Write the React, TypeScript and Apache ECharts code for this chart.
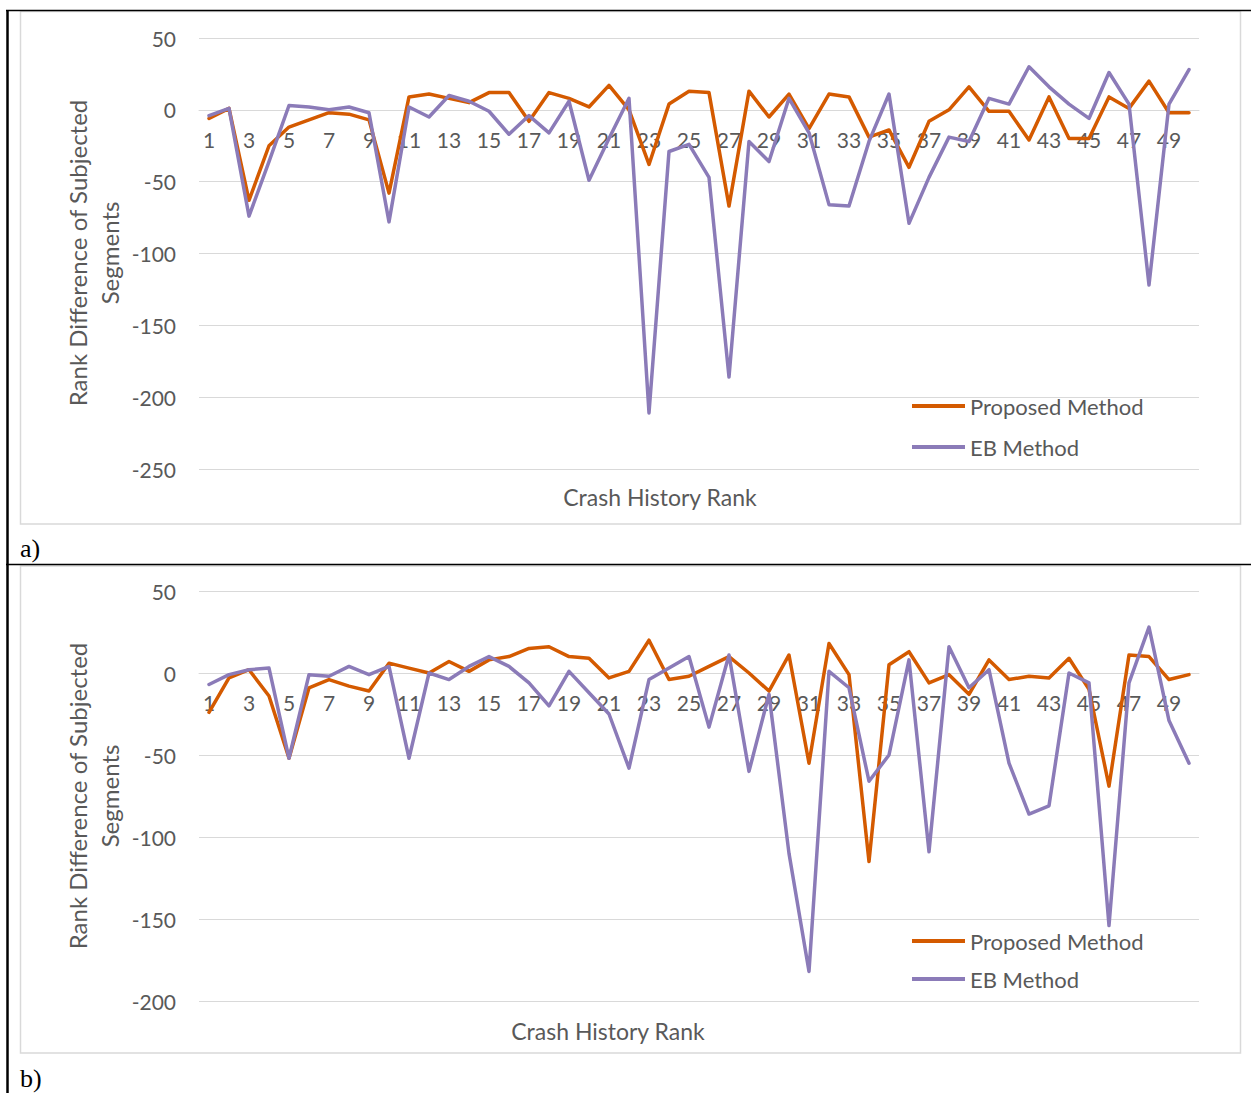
import React, { useEffect, useRef } from "react";
import * as echarts from "echarts";

const categories = [
  "1", "2", "3", "4", "5", "6", "7", "8", "9", "10",
  "11", "12", "13", "14", "15", "16", "17", "18", "19", "20",
  "21", "22", "23", "24", "25", "26", "27", "28", "29", "30",
  "31", "32", "33", "34", "35", "36", "37", "38", "39", "40",
  "41", "42", "43", "44", "45", "46", "47", "48", "49", "50",
];

const proposedA = [
  -6, 1, -63, -25, -12, -7, -2, -3, -7, -58,
  9, 11, 8, 5, 12, 12, -8, 12, 8, 2,
  17, 0, -38, 4, 13, 12, -67, 13, -5, 11,
  -13, 11, 9, -19, -14, -40, -8, 0, 16, -1,
  -1, -21, 9, -20, -20, 9, 1, 20, -2, -2,
];
const ebA = [
  -4, 1, -74, -36, 3, 2, 0, 2, -2, -78,
  2, -5, 10, 6, -1, -17, -4, -16, 6, -49,
  -20, 8, -211, -29, -24, -47, -186, -22, -36, 8,
  -16, -66, -67, -22, 11, -79, -47, -19, -22, 8,
  4, 30, 16, 4, -6, 26, 4, -122, 4, 28,
];
const proposedB = [
  -24, -3, 2, -14, -52, -9, -4, -8, -11, 6,
  3, 0, 7, 1, 8, 10, 15, 16, 10, 9,
  -3, 1, 20, -4, -2, 4, 10, 0, -11, 11,
  -55, 18, -1, -115, 5, 13, -6, -1, -13, 8,
  -4, -2, -3, 9, -10, -69, 11, 10, -4, -1,
];
const ebB = [
  -7, -1, 2, 3, -52, -1, -2, 4, -1, 4,
  -52, 0, -4, 4, 10, 4, -6, -20, 1, -12,
  -25, -58, -4, 3, 10, -33, 11, -60, -13, -110,
  -182, 1, -9, -66, -50, 8, -109, 16, -9, 2,
  -55, -86, -81, 0, -6, -154, -6, 28, -29, -55,
];

const seriesNames = ["Proposed Method", "EB Method"];
const yRangeA = { min: -250, max: 50, interval: 50 };
const yRangeB = { min: -200, max: 50, interval: 50 };
const xTitle = "Crash History Rank";
const yTitle = "Rank Difference of Subjected\nSegments";

const FONT = "Lato";
const TXT = "#595959";
const GRID = "#d9d9d9";
const ORANGE = "#D45A00";
const PURPLE = "#8B7BB8";

export default function App() {
  const ref = useRef<HTMLDivElement>(null);
  useEffect(() => {
    if (!ref.current) return;
    const chart = echarts.init(ref.current, null, { renderer: "svg", width: 1251, height: 1093 });
    const xAxisBase = (gi: number, offset: number) => ({
      type: "category",
      gridIndex: gi,
      position: "bottom",
      offset,
      data: categories,
      boundaryGap: true,
      axisLine: { onZero: false, lineStyle: { color: GRID, width: 1 } },
      axisTick: { show: false },
      axisLabel: { interval: 1, color: TXT, fontSize: 21, fontFamily: FONT, margin: 19 },
      splitLine: { show: false },
    });
    const yAxisBase = (gi: number, r: any) => ({
      type: "value",
      gridIndex: gi,
      min: r.min,
      max: r.max,
      interval: r.interval,
      axisLine: { show: false },
      axisTick: { show: false },
      axisLabel: { color: TXT, fontSize: 21, fontFamily: FONT, margin: 23 },
      splitLine: { lineStyle: { color: GRID, width: 1 } },
    });
    const lineSeries = (name: string, data: number[], color: string, gi: number) => ({
      type: "line",
      name,
      data,
      xAxisIndex: gi,
      yAxisIndex: gi,
      symbol: "none",
      color,
      z: 3,
      lineStyle: { color, width: 3.5, cap: "round", join: "round" },
    });
    const legendBase = (top: number, gap: number) => ({
      orient: "vertical",
      left: 912,
      top,
      padding: 0,
      itemWidth: 53,
      itemHeight: 4,
      itemGap: gap,
      icon: "rect",
      selectedMode: false,
      data: seriesNames,
      textStyle: { color: TXT, fontSize: 22, fontFamily: FONT },
    });
    const textEl = (text: string, x: number, y: number, extra: any = {}) => ({
      type: "text",
      x,
      y,
      ...extra,
      style: {
        text,
        fill: TXT,
        fontSize: 23,
        fontFamily: FONT,
        align: "center",
        verticalAlign: "middle",
        ...(extra.style || {}),
      },
    });
    chart.setOption({
      animation: false,
      backgroundColor: "#ffffff",
      grid: [
        { left: 199, top: 38, width: 1000, height: 431 },
        { left: 199, top: 591, width: 1000, height: 410 },
      ],
      xAxis: [xAxisBase(0, -359), xAxisBase(1, -328)],
      yAxis: [yAxisBase(0, yRangeA), yAxisBase(1, yRangeB)],
      legend: [legendBase(395, 19), legendBase(930, 16)],
      series: [
        lineSeries(seriesNames[0], proposedA, ORANGE, 0),
        lineSeries(seriesNames[1], ebA, PURPLE, 0),
        lineSeries(seriesNames[0], proposedB, ORANGE, 1),
        lineSeries(seriesNames[1], ebB, PURPLE, 1),
      ],
      graphic: [
        { type: "rect", silent: true, z: -1, shape: { x: 20.5, y: 11.5, width: 1220, height: 512.5 }, style: { fill: "none", stroke: GRID, lineWidth: 1.5 } },
        { type: "rect", silent: true, z: -1, shape: { x: 20.5, y: 566, width: 1220, height: 487 }, style: { fill: "none", stroke: GRID, lineWidth: 1.5 } },
        { type: "line", silent: true, shape: { x1: 6, y1: 10.5, x2: 1251, y2: 10.5 }, style: { stroke: "#000", lineWidth: 1.5 } },
        { type: "line", silent: true, shape: { x1: 6, y1: 564.5, x2: 1251, y2: 564.5 }, style: { stroke: "#000", lineWidth: 1.5 } },
        { type: "line", silent: true, shape: { x1: 7.5, y1: 10, x2: 7.5, y2: 1093 }, style: { stroke: "#000", lineWidth: 2.5 } },
        { type: "text", x: 20, y: 548, style: { text: "a)", fill: "#000", fontSize: 26, fontFamily: "Liberation Serif", align: "left", verticalAlign: "middle" } },
        { type: "text", x: 20, y: 1078, style: { text: "b)", fill: "#000", fontSize: 26, fontFamily: "Liberation Serif", align: "left", verticalAlign: "middle" } },
        textEl(xTitle, 660, 497),
        textEl(xTitle, 608, 1031),
        textEl(yTitle, 93, 253, { rotation: Math.PI / 2, style: { lineHeight: 32, fontSize: 24 } }),
        textEl(yTitle, 93, 796, { rotation: Math.PI / 2, style: { lineHeight: 32, fontSize: 24 } }),
      ],
    });
    return () => chart.dispose();
  }, []);
  return (
    <div
      ref={ref}
      style={{ position: "absolute", left: 0, top: 0, width: 1251, height: 1093, background: "#fff" }}
    />
  );
}
